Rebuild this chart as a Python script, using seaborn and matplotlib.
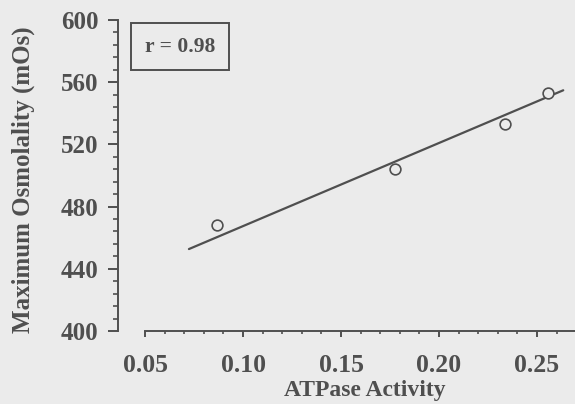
import matplotlib
matplotlib.use("Agg")
import matplotlib.pyplot as plt
import seaborn as sns
import numpy as np
from matplotlib.patches import Rectangle
from matplotlib.ticker import MultipleLocator, FixedLocator, FormatStrFormatter

# values
atpase = [0.0867, 0.1776, 0.2337, 0.2558]
osmolality = [468.4, 504.3, 533.4, 553.3]
fit_x = [0.0724, 0.2634]
fit_y = [452.7, 554.8]
r_text = "r = 0.98"

sns.set_style("ticks")
plt.rcParams['font.family'] = ['Liberation Serif', 'DejaVu Serif']
ink = '#4f4f4f'
bg = '#ebebeb'

fig = plt.figure(figsize=(5.75, 4.04), dpi=100, facecolor=bg)
ax = fig.add_axes([118 / 575, 73 / 404, 457 / 575, 311 / 404])
ax.set_facecolor(bg)

sns.lineplot(x=fit_x, y=fit_y, ax=ax, color=ink, linewidth=1.6)
sns.scatterplot(x=atpase, y=osmolality, ax=ax, marker='o', s=60,
                facecolor=bg, edgecolor=ink, linewidth=1.2, zorder=3)

ax.set_xlim(0.0362, 0.2694)
ax.set_ylim(400, 600)

# open frame, x-axis starts at 0.05 so it stands off the y-axis
for side in ['top', 'right']:
    ax.spines[side].set_visible(False)
for side in ['left', 'bottom']:
    ax.spines[side].set_color(ink)
    ax.spines[side].set_linewidth(1.4)
ax.spines['bottom'].set_bounds(0.05, 0.2694)

ax.yaxis.set_major_locator(MultipleLocator(40))
ax.yaxis.set_minor_locator(MultipleLocator(8))
ax.xaxis.set_major_locator(FixedLocator([0.05, 0.10, 0.15, 0.20, 0.25]))
ax.xaxis.set_minor_locator(FixedLocator(np.arange(5, 27) / 100))
ax.xaxis.set_major_formatter(FormatStrFormatter('%.2f'))

ax.tick_params(axis='y', which='major', direction='out', length=7, width=1.4,
               color=ink, labelcolor=ink, labelsize=18, pad=7)
ax.tick_params(axis='y', which='minor', direction='out', length=3.6, width=1.2, color=ink)
ax.tick_params(axis='x', which='major', direction='out', length=4.3, width=1.4,
               color=ink, labelcolor=ink, labelsize=18.5, pad=12.5)
ax.tick_params(axis='x', which='minor', direction='out', length=2.5, width=1.2, color=ink)
for lab in ax.get_xticklabels() + ax.get_yticklabels():
    lab.set_fontweight('bold')

ax.set_ylabel("Maximum Osmolality (mOs)", fontsize=18, fontweight='bold', color=ink, va='center')
ax.yaxis.set_label_coords(-0.208, 0.486)
ax.set_xlabel("ATPase Activity", fontsize=17, fontweight='bold', color=ink, va='center')
ax.xaxis.set_label_coords(0.540, -0.190)

ax.add_patch(Rectangle((0.0284, 0.839), 0.2144, 0.151, transform=ax.transAxes,
                       fill=False, edgecolor=ink, linewidth=1.4, clip_on=False))
ax.text(0.136, 0.913, r_text, transform=ax.transAxes, ha='center', va='center',
        fontsize=15.5, fontweight='bold', color=ink)

fig.savefig("out.png", dpi=100, facecolor=bg)
